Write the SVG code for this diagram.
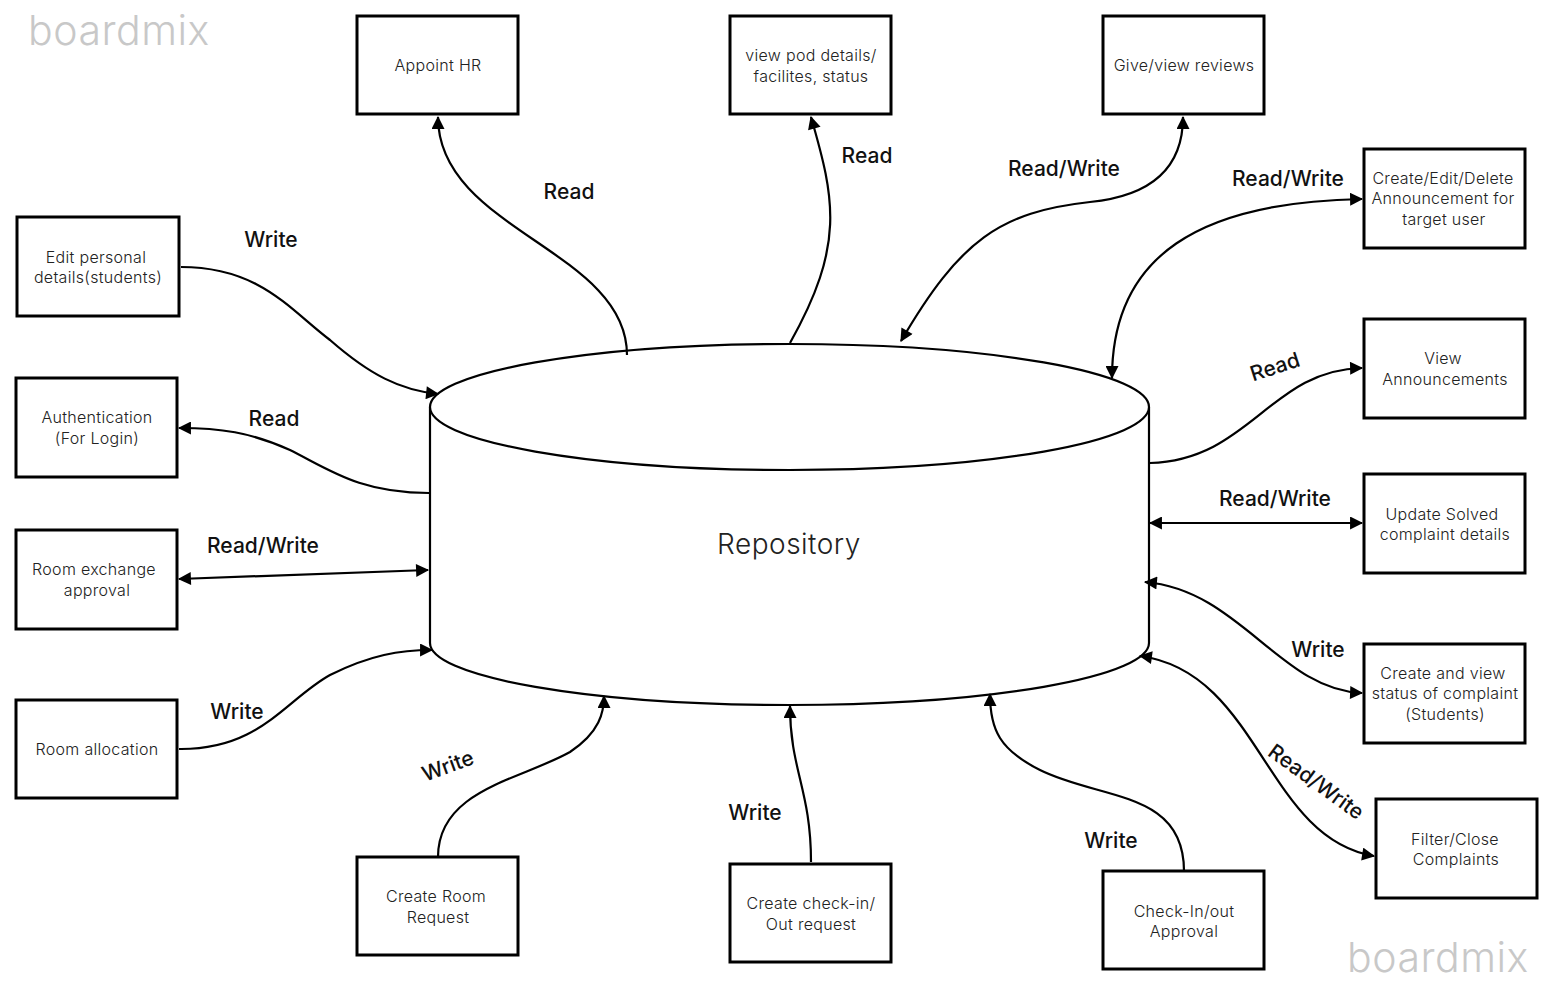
<svg xmlns="http://www.w3.org/2000/svg" width="1553" height="986" viewBox="0 0 1553 986">
<defs>
<marker id="ah" viewBox="0 0 12 12" refX="11" refY="6" markerWidth="14" markerHeight="13" markerUnits="userSpaceOnUse" orient="auto-start-reverse">
<path d="M0,0 L12,6 L0,12 Z" fill="#000"/>
</marker>
<style>
.box{fill:#fff;stroke:#000;stroke-width:3}
.bt{font-family:Inter,"Liberation Sans",sans-serif;font-size:16px;font-weight:300;fill:#222;text-anchor:middle;letter-spacing:0.3px}
.lb{font-family:Inter,"Liberation Sans",sans-serif;font-size:21px;font-weight:500;fill:#111;text-anchor:middle}
.c{fill:none;stroke:#000;stroke-width:2.2}
.wm{font-family:Inter,"Liberation Sans",sans-serif;font-size:41px;font-weight:300;fill:#c8c8c8;letter-spacing:0.5px}
</style>
</defs>
<rect width="1553" height="986" fill="#fff"/>
<text class="wm" x="28" y="45">boardmix</text>
<text class="wm" x="1347" y="972">boardmix</text>

<g id="repository">
<path d="M430,407 L430,643 A359.5,62 0 0 0 1149,643 L1149,407" fill="#fff" stroke="#000" stroke-width="2.2"/>
<ellipse cx="789.5" cy="407" rx="359.5" ry="63" fill="#fff" stroke="#000" stroke-width="2.2"/>
<text x="789" y="554" font-family="Inter,'Liberation Sans',sans-serif" font-size="28" font-weight="300" fill="#222" text-anchor="middle" letter-spacing="0.5">Repository</text>
</g>

<g id="appoint-hr"><rect class="box" x="357" y="16" width="161" height="98"/><text class="bt" x="438" y="71">Appoint HR</text></g>
<g id="view-pod"><rect class="box" x="730" y="16" width="161" height="98"/><text class="bt" x="811" y="61">view pod details/</text><text class="bt" x="811" y="82">facilites, status</text></g>
<g id="reviews"><rect class="box" x="1103" y="16" width="161" height="98"/><text class="bt" x="1184" y="71">Give/view reviews</text></g>
<g id="announce-edit"><rect class="box" x="1364" y="149" width="161" height="99"/><text class="bt" x="1443" y="184">Create/Edit/Delete</text><text class="bt" x="1443" y="204">Announcement for</text><text class="bt" x="1444" y="225">target user</text></g>
<g id="announce-view"><rect class="box" x="1364" y="319" width="161" height="99"/><text class="bt" x="1443" y="364">View</text><text class="bt" x="1445" y="385">Announcements</text></g>
<g id="update-solved"><rect class="box" x="1364" y="474" width="161" height="99"/><text class="bt" x="1442" y="520">Update Solved</text><text class="bt" x="1445" y="540">complaint details</text></g>
<g id="create-complaint"><rect class="box" x="1364" y="644" width="161" height="99"/><text class="bt" x="1443" y="679">Create and view</text><text class="bt" x="1445" y="699">status of complaint</text><text class="bt" x="1445" y="720">(Students)</text></g>
<g id="filter-close"><rect class="box" x="1376" y="799" width="161" height="99"/><text class="bt" x="1455" y="845">Filter/Close</text><text class="bt" x="1456" y="865">Complaints</text></g>
<g id="edit-personal"><rect class="box" x="17" y="217" width="162" height="99"/><text class="bt" x="96" y="263">Edit personal</text><text class="bt" x="98" y="283">details(students)</text></g>
<g id="authentication"><rect class="box" x="16" y="378" width="161" height="99"/><text class="bt" x="97" y="423">Authentication</text><text class="bt" x="97" y="444">(For Login)</text></g>
<g id="room-exchange"><rect class="box" x="16" y="530" width="161" height="99"/><text class="bt" x="94" y="575">Room exchange</text><text class="bt" x="97" y="596">approval</text></g>
<g id="room-allocation"><rect class="box" x="16" y="700" width="161" height="98"/><text class="bt" x="97" y="755">Room allocation</text></g>
<g id="room-request"><rect class="box" x="357" y="857" width="161" height="98"/><text class="bt" x="436" y="902">Create Room</text><text class="bt" x="438" y="923">Request</text></g>
<g id="checkin-request"><rect class="box" x="730" y="864" width="161" height="98"/><text class="bt" x="811" y="909">Create check-in/</text><text class="bt" x="811" y="930">Out request</text></g>
<g id="checkin-approval"><rect class="box" x="1103" y="871" width="161" height="98"/><text class="bt" x="1184" y="917">Check-In/out</text><text class="bt" x="1184" y="937">Approval</text></g>

<g id="connectors">
<path class="c" d="M627,355 C627,250 438,230 438,117" marker-end="url(#ah)"/>
<path class="c" d="M790,343 C845,245 835,200 811,117" marker-end="url(#ah)"/>
<path class="c" d="M901,341 C960,240 1000,212 1090,202 C1160,195 1183,160 1183,117" marker-start="url(#ah)" marker-end="url(#ah)"/>
<path class="c" d="M1112,378 C1112,255 1200,202 1362,199" marker-start="url(#ah)" marker-end="url(#ah)"/>
<path class="c" d="M1150,463 C1250,460 1270,370 1362,368" marker-end="url(#ah)"/>
<path class="c" d="M1150,523 L1362,523" marker-start="url(#ah)" marker-end="url(#ah)"/>
<path class="c" d="M1145,582 C1240,590 1280,690 1362,693" marker-start="url(#ah)" marker-end="url(#ah)"/>
<path class="c" d="M1140,656 C1260,672 1265,838 1374,856" marker-start="url(#ah)" marker-end="url(#ah)"/>
<path class="c" d="M1184,871 C1184,790 1100,800 1040,770 C1000,750 990,730 990,694" marker-end="url(#ah)"/>
<path class="c" d="M811,862 C811,790 790,770 790,706" marker-end="url(#ah)"/>
<path class="c" d="M438,857 C438,790 520,780 570,752 C600,732 604,712 604,696" marker-end="url(#ah)"/>
<path class="c" d="M179,749 C260,750 285,700 330,675 C370,655 400,650 432,650" marker-end="url(#ah)"/>
<path class="c" d="M179,579 L428,570" marker-start="url(#ah)" marker-end="url(#ah)"/>
<path class="c" d="M429,493 C360,493 330,470 290,450 C250,432 220,428 179,428" marker-end="url(#ah)"/>
<path class="c" d="M181,267 C260,267 290,310 330,340 C370,375 400,390 438,394" marker-end="url(#ah)"/>
</g>

<g id="labels">
<text class="lb" x="569" y="199">Read</text>
<text class="lb" x="867" y="163">Read</text>
<text class="lb" x="1064" y="176">Read/Write</text>
<text class="lb" x="1288" y="186">Read/Write</text>
<text class="lb" x="1275" y="374" transform="rotate(-18 1275 367)">Read</text>
<text class="lb" x="1275" y="506">Read/Write</text>
<text class="lb" x="1318" y="657">Write</text>
<text class="lb" x="1316" y="789" transform="rotate(36 1316 782)">Read/Write</text>
<text class="lb" x="1111" y="848">Write</text>
<text class="lb" x="755" y="820">Write</text>
<text class="lb" x="448" y="773" transform="rotate(-20 448 766)">Write</text>
<text class="lb" x="237" y="719">Write</text>
<text class="lb" x="263" y="553">Read/Write</text>
<text class="lb" x="274" y="426">Read</text>
<text class="lb" x="271" y="247">Write</text>
</g>
</svg>
